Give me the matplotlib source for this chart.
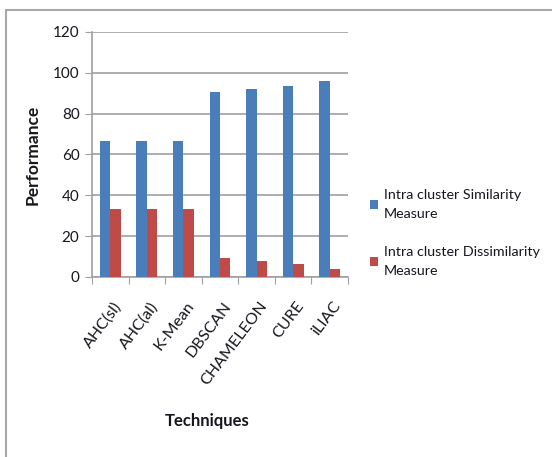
import numpy as np
import matplotlib.pyplot as plt
from matplotlib.patches import Rectangle

plt.rcParams['font.family'] = ['Lato', 'DejaVu Sans']

# Clustering techniques and their intra cluster measures
techniques = ['AHC(sl)', 'AHC(al)', 'K-Mean', 'DBSCAN', 'CHAMELEON', 'CURE', 'iLIAC']
similarity = [66.67, 66.67, 66.67, 90.6, 92.2, 93.6, 96.0]
dissimilarity = [33.33, 33.33, 33.33, 9.4, 7.8, 6.4, 4.0]

blue = '#4a7ebb'
red = '#be4b48'
grid_grey = '#a0a0a0'
ink = '#161620'

fig = plt.figure(figsize=(5.52, 4.57), dpi=100)
ax = fig.add_axes([0.1667, 0.394, 0.4636, 0.536])

x = np.arange(len(techniques))
w = 0.285
ax.bar(x - w / 2, similarity, w, color=blue, label='Intra cluster Similarity\nMeasure', zorder=3)
ax.bar(x + w / 2, dissimilarity, w, color=red, label='Intra cluster Dissimilarity\nMeasure', zorder=3)

ax.set_xlim(-0.5, len(techniques) - 0.5)
ax.set_ylim(0, 120)
ax.set_yticks(np.arange(0, 121, 20))
ax.yaxis.grid(True, color=grid_grey, linewidth=1.2, zorder=0)

# category boundaries as tick marks on the x axis
ax.set_xticks(np.arange(-0.5, len(techniques), 1.0))
ax.set_xticklabels([])
ax.set_xticks(x + 0.08, minor=True)
ax.set_xticklabels(techniques, minor=True, rotation=53, ha='right',
                   rotation_mode='anchor', fontsize=11.5, color=ink)
ax.tick_params(axis='x', which='minor', length=0, pad=16)
ax.tick_params(axis='x', which='major', length=5, color=grid_grey)
ax.tick_params(axis='y', length=5, color=grid_grey, labelsize=11, labelcolor=ink, pad=4)

for s in ['top', 'right']:
    ax.spines[s].set_visible(False)
for s in ['left', 'bottom']:
    ax.spines[s].set_color(grid_grey)
    ax.spines[s].set_linewidth(1.2)

ax.set_ylabel('Performance', fontweight='bold', fontsize=12.5, color=ink)
ax.yaxis.set_label_coords(-0.2, 0.5)
ax.set_xlabel('Techniques', fontweight='bold', fontsize=12, color=ink)
ax.xaxis.set_label_coords(0.45, -0.555)

leg = ax.legend(loc='center left', bbox_to_anchor=(1.035, 0.18), frameon=False,
                fontsize=10.3, handlelength=0.6, handleheight=0.6, handletextpad=0.4,
                labelspacing=1.8)
for t in leg.get_texts():
    t.set_linespacing(1.7)
    t.set_color(ink)

# chart border
fig.add_artist(Rectangle((6 / 552, -0.1), 1.2, 1 - 10 / 457 + 0.1,
                         transform=fig.transFigure, fill=False,
                         edgecolor='#a8a8a8', linewidth=1.5))

fig.savefig('out.png', dpi=100)
